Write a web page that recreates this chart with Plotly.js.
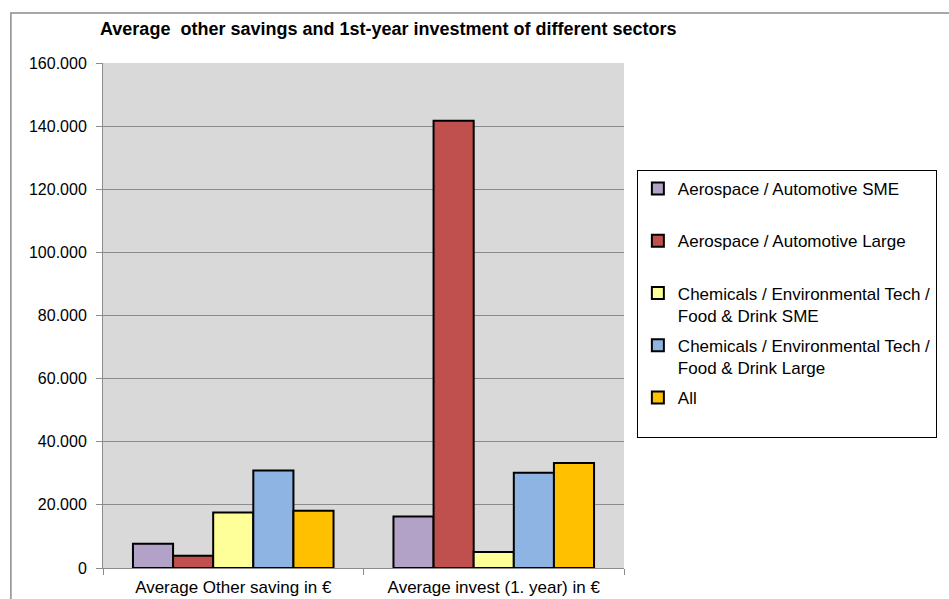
<!DOCTYPE html>
<html>
<head>
<meta charset="utf-8">
<script src="https://cdn.plot.ly/plotly-3.0.1.min.js"></script>
<style>
  html, body { margin: 0; padding: 0; background: #ffffff; }
  #chart { width: 949px; height: 599px; }
</style>
</head>
<body>
<div id="chart"></div>
<script>
// ---- data ----
const categories = ["Average Other saving in €", "Average invest (1. year) in €"];
const seriesNames = [
  "Aerospace / Automotive SME",
  "Aerospace / Automotive Large",
  "Chemicals / Environmental Tech /<br>Food & Drink SME",
  "Chemicals / Environmental Tech /<br>Food & Drink Large",
  "All"
];
const aeroSME = [7700, 16300];
const aeroLarge = [3900, 141700];
const chemSME = [17600, 5100];
const chemLarge = [30900, 30200];
const allSectors = [18100, 33300];
const seriesValues = [aeroSME, aeroLarge, chemSME, chemLarge, allSectors];
const seriesColors = ["#b3a2c7", "#c0504d", "#ffff99", "#8eb4e3", "#ffc000"];
const yTickValues = [0, 20000, 40000, 60000, 80000, 100000, 120000, 140000, 160000];

const FONT = "Liberation Sans, Arial, Helvetica, sans-serif";

// make every legend entry the same two-line height, like the reference's evenly spaced slots
function legendName(n) { return n.indexOf("<br>") >= 0 ? n : n + "<br>\u00a0"; }

const traces = seriesNames.map((name, i) => ({
  type: "bar",
  name: legendName(name),
  legendgroup: "g" + i,
  x: categories,
  y: seriesValues[i],
  marker: { color: seriesColors[i], line: { color: "#000000", width: 2 } },
  hoverinfo: "x+y"
}));

const layout = {
  width: 949,
  height: 599,
  margin: { l: 103, r: 320, t: 63, b: 31, pad: 0 },
  paper_bgcolor: "#ffffff",
  plot_bgcolor: "#d9d9d9",
  separators: ",.",
  font: { family: FONT, size: 16, color: "#000000" },
  title: {
    text: "Average\u00a0 other savings and 1st-year investment of different sectors",
    font: { family: FONT, size: 18, weight: 700, color: "#000000" },
    xref: "container", x: 0.1054, xanchor: "left",
    yref: "container", y: 0.952, yanchor: "middle"
  },
  barmode: "group",
  bargap: 0.23,
  bargroupgap: 0,
  xaxis: {
    type: "category",
    categoryorder: "array",
    categoryarray: categories,
    showgrid: false,
    showline: true,
    linecolor: "#8c8c8c",
    linewidth: 1,
    ticks: "outside",
    tickson: "boundaries",
    ticklen: 6,
    tickcolor: "#8c8c8c",
    tickfont: { family: FONT, size: 17, color: "#000000" },
    ticklabelstandoff: 4,
    zeroline: false,
    fixedrange: true
  },
  yaxis: {
    range: [0, 160000],
    tickmode: "array",
    tickvals: yTickValues,
    tickformat: ",d",
    showgrid: true,
    gridcolor: "#8c8c8c",
    gridwidth: 1,
    showline: true,
    linecolor: "#8c8c8c",
    linewidth: 1,
    ticks: "outside",
    ticklen: 6,
    tickcolor: "#8c8c8c",
    tickfont: { family: FONT, size: 16, color: "#000000" },
    ticklabelstandoff: 6,
    zeroline: false,
    fixedrange: true
  },
  legend: {
    x: 1.0247, xanchor: "left",
    y: 0.788, yanchor: "top",
    bgcolor: "#ffffff",
    bordercolor: "#000000",
    borderwidth: 1,
    font: { family: FONT, size: 17, color: "#000000" },
    traceorder: "grouped",
    tracegroupgap: 5,
    valign: "top",
    itemclick: false,
    itemdoubleclick: false
  },
  shapes: [
    {
      type: "rect", xref: "paper", yref: "paper",
      x0: -0.1768, x1: 1.75, y0: -0.3, y1: 1.099,
      line: { color: "#8c8c8c", width: 1.5 },
      fillcolor: "rgba(0,0,0,0)",
      layer: "below"
    }
  ],
  showlegend: true
};

Plotly.newPlot("chart", traces, layout, { displayModeBar: false, staticPlot: true });
</script>
</body>
</html>
